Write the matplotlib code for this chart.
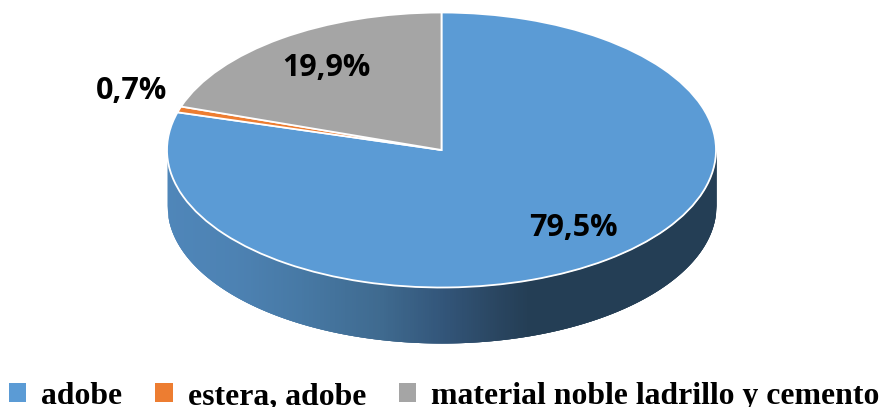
import numpy as np
import matplotlib
matplotlib.use("Agg")
import matplotlib.pyplot as plt
from matplotlib.colors import LinearSegmentedColormap
from matplotlib.patches import Patch

categories = ["adobe", "estera, adobe", "material noble ladrillo y cemento"]
values = [79.5, 0.7, 19.9]
value_labels = ["79,5%", "0,7%", "19,9%"]
colors = ["#5B9BD5", "#ED7D31", "#A5A5A5"]

W, H = 884, 407
CX, CY, RX, RY, DEPTH = 441.5, 150, 274.5, 137.5, 55.5

fig = plt.figure(figsize=(W / 100, H / 100), dpi=100)
ax = fig.add_axes([0, 0, 1, 1])

wedges, _ = ax.pie(values, colors=colors, startangle=90, counterclock=False,
                   radius=1, center=(0, 0),
                   wedgeprops=dict(edgecolor="white", linewidth=1.3, zorder=2))
ax.set_aspect("auto")
ax.set_xlim(-CX / RX, (W - CX) / RX)
ax.set_ylim(-(H - CY) / RY, CY / RY)
ax.axis("off")

# Side wall of the 3D disc with horizontal shading
cmap = LinearSegmentedColormap.from_list("side", [
    (0.00, "#4F86B9"), (0.12, "#4D82B3"), (0.24, "#4779A5"), (0.39, "#3F6A8F"),
    (0.50, "#33567A"), (0.60, "#2A4661"), (0.66, "#243E55"), (1.00, "#243E55")])
n_strips = 550
edges = np.linspace(-1, 1, n_strips + 1)
d = DEPTH / RY
step = edges[1] - edges[0]
for a in edges[:-1]:
    xs = np.linspace(a, min(a + 3 * step, 1), 4)
    arc = -np.sqrt(np.clip(1 - xs ** 2, 0, 1))
    c = cmap((a + step / 2) / 2 + 0.5)
    ax.fill_between(xs, arc - d, arc, color=c, linewidth=0, zorder=1)

label_px = [(573, 228), (132, 91), (326, 68)]
for t, (px, py) in zip(value_labels, label_px):
    ax.text((px - CX) / RX, (CY - py) / RY, t, ha="center", va="center",
            family="Open Sans", fontweight="bold", fontsize=22, color="black", zorder=3)

handles = [Patch(facecolor=c, edgecolor="none") for c in colors]
leg = ax.legend(handles, categories, ncol=3, frameon=False, loc="lower left",
                bbox_to_anchor=(9 / W, -4 / H), borderaxespad=0, borderpad=0,
                handlelength=0.55, handleheight=0.55, handletextpad=0.47,
                columnspacing=1.03,
                prop=dict(family="Liberation Serif", weight="bold", size=22.88))

fig.savefig("out.png", dpi=100, facecolor="white")
